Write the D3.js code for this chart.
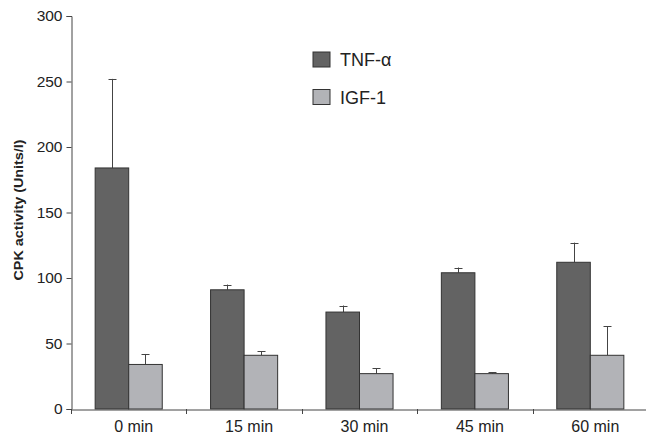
<!DOCTYPE html>
<html>
<head>
<meta charset="utf-8">
<script src="https://cdn.jsdelivr.net/npm/d3@7"></script>
<style>
  body { margin: 0; background: #fff; }
  svg { display: block; font-family: Arial, "Liberation Sans", sans-serif; }
</style>
</head>
<body>
<div id="chart"></div>
<script>
// values
var categories = ["0 min", "15 min", "30 min", "45 min", "60 min"];
var seriesNames = ["TNF-\u03b1", "IGF-1"];
var tnfValues = [184, 91, 74, 104, 112];
var tnfErrors = [68, 4, 5, 4, 15];
var igfValues = [34, 41, 27, 27, 41];
var igfErrors = [8, 3, 4, 1, 22];
var yTicks = [0, 50, 100, 150, 200, 250, 300];

var colors = ["#636363", "#b2b3b7"];

var width = 646, height = 437;
var margin = { left: 71, right: -2, top: 16, bottom: 28 };

var svg = d3.select("#chart").append("svg")
  .attr("width", width)
  .attr("height", height);

var x = d3.scaleBand()
  .domain(categories)
  .range([margin.left, width - margin.right])
  .paddingInner(0)
  .paddingOuter(0);

var xSub = d3.scaleBand()
  .domain(seriesNames)
  .range([0, x.bandwidth()])
  .paddingOuter(0.72)
  .paddingInner(0);

var y = d3.scaleLinear()
  .domain([0, 300])
  .range([height - margin.bottom, margin.top]);

var series = [
  { name: seriesNames[0], values: tnfValues, errors: tnfErrors, color: colors[0] },
  { name: seriesNames[1], values: igfValues, errors: igfErrors, color: colors[1] }
];

var rows = [];
series.forEach(function (s) {
  categories.forEach(function (c, i) {
    rows.push({ cat: c, name: s.name, value: s.values[i], err: s.errors[i], color: s.color });
  });
});

// error bars (drawn first so the bar covers the stem)
var eb = svg.append("g").attr("stroke", "#444").attr("stroke-width", 1);
rows.forEach(function (d) {
  var cx = Math.round(x(d.cat) + xSub(d.name) + xSub.bandwidth() / 2) + 0.5;
  eb.append("line")
    .attr("x1", cx).attr("x2", cx)
    .attr("y1", y(d.value)).attr("y2", y(d.value + d.err));
  eb.append("line")
    .attr("x1", cx - 4).attr("x2", cx + 4)
    .attr("y1", Math.round(y(d.value + d.err)) + 0.5)
    .attr("y2", Math.round(y(d.value + d.err)) + 0.5);
});

// bars
svg.append("g")
  .selectAll("rect")
  .data(rows)
  .enter().append("rect")
  .attr("x", function (d) { return x(d.cat) + xSub(d.name); })
  .attr("y", function (d) { return y(d.value); })
  .attr("width", xSub.bandwidth())
  .attr("height", function (d) { return y(0) - y(d.value); })
  .attr("fill", function (d) { return d.color; })
  .attr("stroke", "#333")
  .attr("stroke-width", 1);

// y axis
var yAxis = svg.append("g")
  .attr("transform", "translate(" + (margin.left + 0.5) + ",0)")
  .call(d3.axisLeft(y).tickValues(yTicks).tickSize(5).tickPadding(4));
yAxis.selectAll("text").style("font-size", "15.5px").attr("fill", "#222");
yAxis.selectAll("line, path").attr("stroke", "#444");

// x axis
var xAxis = svg.append("g")
  .attr("transform", "translate(0," + (y(0) + 0.5) + ")")
  .call(d3.axisBottom(x).tickSize(0).tickPadding(11));
xAxis.select(".domain").attr("stroke", "#444");
xAxis.selectAll("text").style("font-size", "16px").attr("fill", "#222").attr("dx", 5);

// tick marks between groups
var bounds = categories.map(function (c) { return x(c); });
svg.append("g").selectAll("line")
  .data(bounds)
  .enter().append("line")
  .attr("x1", function (d) { return Math.round(d) + 0.5; })
  .attr("x2", function (d) { return Math.round(d) + 0.5; })
  .attr("y1", y(0))
  .attr("y2", y(0) + 5)
  .attr("stroke", "#444");

// y label
svg.append("text")
  .attr("transform", "translate(23,210) rotate(-90)")
  .attr("text-anchor", "middle")
  .attr("textLength", 141)
  .attr("lengthAdjust", "spacingAndGlyphs")
  .style("font-size", "13px")
  .style("font-weight", "bold")
  .attr("fill", "#222")
  .text("CPK activity (Units/l)");

// legend
var legend = svg.append("g").attr("transform", "translate(313,52)");
series.forEach(function (s, i) {
  var g = legend.append("g").attr("transform", "translate(0," + (i * 37.5) + ")");
  g.append("rect")
    .attr("width", 17).attr("height", 15)
    .attr("fill", s.color).attr("stroke", "#333");
  g.append("text")
    .attr("x", 27).attr("y", 14)
    .style("font-size", "18px")
    .attr("fill", "#222")
    .text(s.name);
});
</script>
</body>
</html>
